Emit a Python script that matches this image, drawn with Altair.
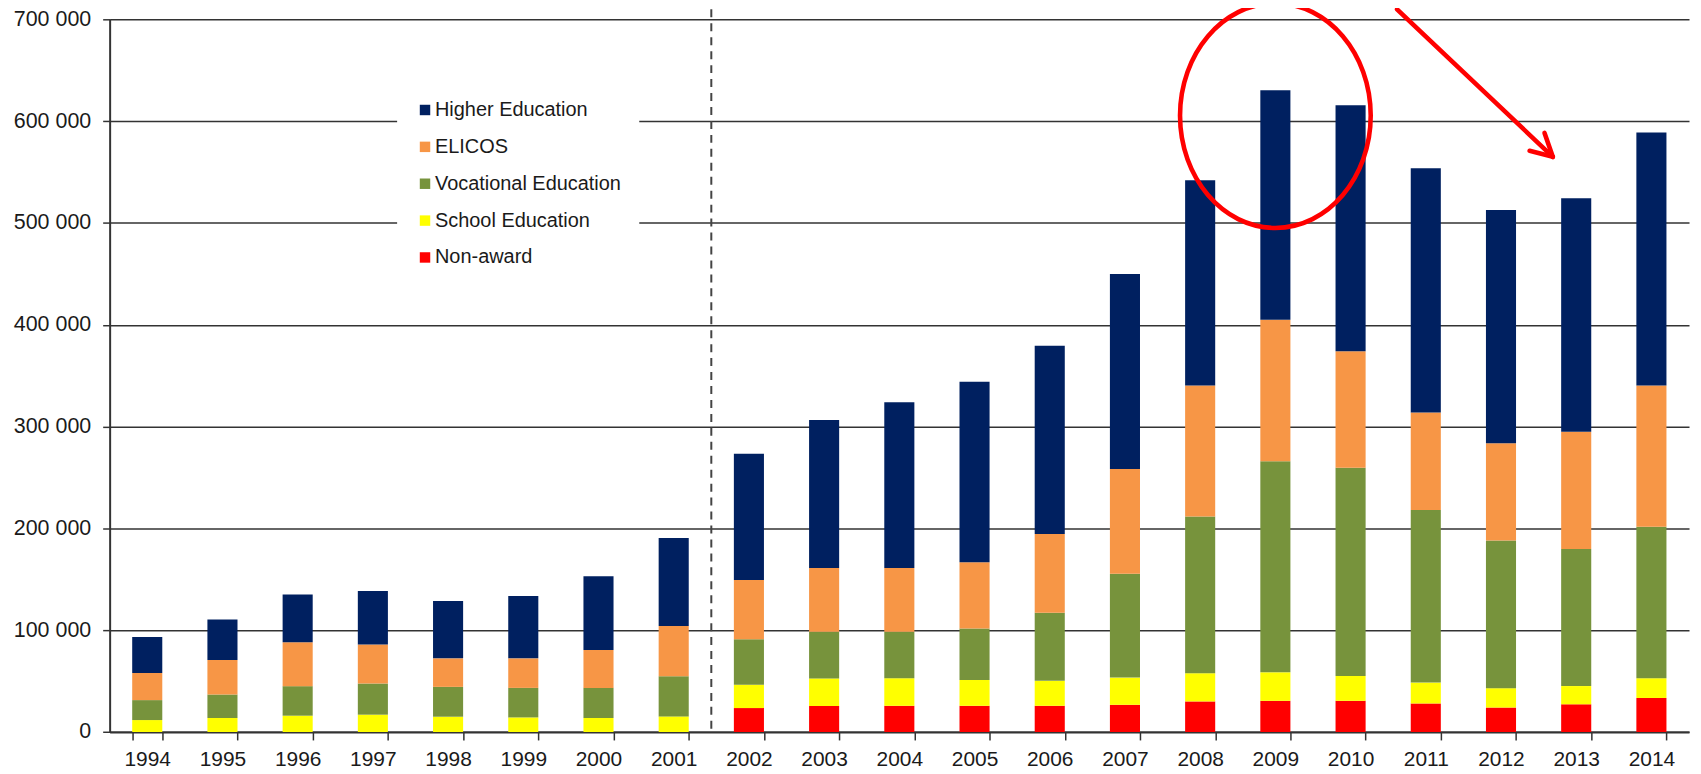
import altair as alt
import pandas as pd

years = [str(y) for y in range(1994, 2015)]

series = ["Higher Education", "ELICOS", "Vocational Education", "School Education", "Non-award"]
colors = ["#002060", "#F79646", "#77933C", "#FFFF00", "#FF0000"]

# values in thousands of enrolments
non_award = [0, 0, 0, 0, 0, 0, 0, 0, 23.5, 25.5, 25.7, 25.7, 25.7, 26.7, 30.0, 30.6, 30.6, 28.0, 24.0, 27.2, 33.4]
school = [11.7, 13.7, 16.0, 17.0, 15.0, 14.3, 13.7, 15.3, 22.9, 27.1, 27.1, 25.4, 24.5, 26.7, 27.7, 28.0, 24.4, 20.5, 19.0, 17.9, 19.4]
vocational = [19.6, 23.1, 29.0, 30.6, 29.3, 29.0, 29.6, 39.4, 44.6, 45.8, 45.6, 50.5, 66.8, 102.0, 154.0, 207.4, 204.6, 169.5, 145.0, 134.7, 148.8]
elicos = [26.7, 33.9, 43.1, 38.4, 28.0, 29.0, 37.2, 49.3, 58.2, 62.6, 62.6, 65.2, 77.5, 103.0, 128.7, 138.9, 114.3, 95.7, 95.7, 115.0, 138.8]
higher = [35.3, 39.7, 46.9, 52.4, 56.4, 61.3, 72.5, 86.5, 124.2, 145.5, 162.8, 177.2, 184.8, 191.4, 201.6, 225.5, 241.8, 239.9, 229.0, 229.4, 248.5]

y_ticks = [0, 100000, 200000, 300000, 400000, 500000, 600000, 700000]

stack_series = {
    "Non-award": non_award,
    "School Education": school,
    "Vocational Education": vocational,
    "ELICOS": elicos,
    "Higher Education": higher,
}

rows = []
for rank, (name, vals) in enumerate(stack_series.items()):
    for yr, v in zip(years, vals):
        rows.append({"year": yr, "series": name, "value": v * 1000, "rank": rank})
df = pd.DataFrame(rows)

FONT = "Liberation Sans"
W, H = 1585, 715.2
STEP = W / len(years)

xscale = alt.Scale(paddingInner=0.6, paddingOuter=0.3)

bars = alt.Chart(df).mark_bar().encode(
    x=alt.X("year:N", sort=years, scale=xscale,
            axis=alt.Axis(title=None, labelAngle=0, tickBand="extent", grid=False,
                          domainColor="#333333", domainWidth=2, tickColor="#333333",
                          tickWidth=1.5, tickSize=8, labelFont=FONT, labelFontSize=21,
                          labelColor="#1a1a1a", labelPadding=8.5)),
    y=alt.Y("value:Q", stack="zero", scale=alt.Scale(domain=[0, 700000], nice=False),
            axis=alt.Axis(title=None, values=y_ticks, grid=True, gridColor="#333333",
                          gridWidth=1.5, domainColor="#333333", domainWidth=2,
                          tickColor="#333333", tickWidth=1.5, tickSize=7,
                          labelFont=FONT, labelFontSize=21.5, labelColor="#1a1a1a",
                          labelPadding=12,
                          labelExpr="datum.value == 0 ? '0' : format(datum.value / 1000, 'd') + ' 000'")),
    color=alt.Color("series:N", scale=alt.Scale(domain=series, range=colors),
                    legend=alt.Legend(title=None, orient="none", legendX=288.5, legendY=63,
                                      fillColor="white", padding=18, symbolType="square",
                                      symbolSize=110, symbolStrokeWidth=0, labelFont=FONT,
                                      labelFontSize=20, labelColor="#1a1a1a", rowPadding=17,
                                      labelOffset=0, labelLimit=0, direction="vertical")),
    order=alt.Order("rank:Q", sort="ascending"),
)

# dashed separator on the boundary between 2001 and 2002
divider = alt.Chart(pd.DataFrame({"year": ["2001"]})).mark_rule(
    strokeDash=[8, 6], color="#444444", strokeWidth=2, xOffset=0.3 * STEP
).encode(
    x=alt.X("year:N", sort=years, bandPosition=1),
    y=alt.value(-10),
    y2=alt.value(H),
)

ellipse_path = "M -0.849,0 A 0.849,1 0 1,1 0.849,0 A 0.849,1 0 1,1 -0.849,0 Z"
ellipse = alt.Chart(pd.DataFrame({"year": ["2009"], "v": [605400]})).mark_point(
    shape=ellipse_path, size=50805, filled=False, color="#FF0000", strokeWidth=4.6, opacity=1
).encode(
    x=alt.X("year:N", sort=years),
    y=alt.Y("v:Q"),
)

one = pd.DataFrame({"k": [0]})
arrow_style = dict(color="#FF0000", strokeWidth=4.6, strokeCap="round")
arrow_shaft = alt.Chart(one).mark_rule(**arrow_style).encode(
    x=alt.value(1292), y=alt.value(-10), x2=alt.value(1448.3), y2=alt.value(138))
arrow_arm1 = alt.Chart(one).mark_rule(**arrow_style).encode(
    x=alt.value(1425), y=alt.value(132), x2=alt.value(1448.3), y2=alt.value(138))
arrow_arm2 = alt.Chart(one).mark_rule(**arrow_style).encode(
    x=alt.value(1440), y=alt.value(114), x2=alt.value(1448.3), y2=alt.value(138))

chart = alt.layer(bars, divider, ellipse, arrow_shaft, arrow_arm1, arrow_arm2).properties(
    width=W, height=H, autosize="none",
    padding={"left": 102, "top": 10, "right": 4, "bottom": 38},
).configure_view(stroke=None)

chart.save("out.html", embed_options={"renderer": "svg", "actions": False})
